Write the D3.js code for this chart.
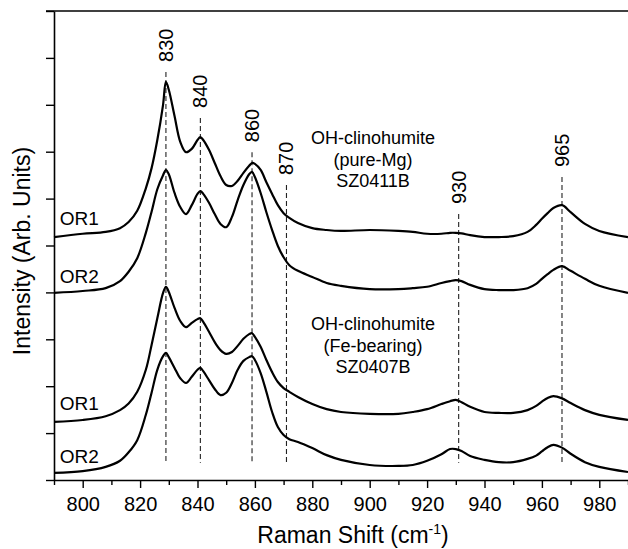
<!DOCTYPE html>
<html>
<head>
<meta charset="utf-8">
<script src="https://cdn.jsdelivr.net/npm/d3@7"></script>
<style>
  html, body { margin: 0; padding: 0; background: #fff; }
  svg { display: block; }
  text { font-family: "Liberation Sans", Arial, sans-serif; fill: #000; }
</style>
</head>
<body>
<svg id="chart" width="628" height="549"></svg>
<script>
// ---------------- data ----------------
const wavenumber = [790, 800, 808, 813, 816, 819, 822, 824, 826, 828, 829, 830, 832, 834, 836, 838, 840, 841, 842, 844, 846, 848, 850, 852, 854, 856, 858, 859, 860, 862, 864, 866, 868, 870, 872, 875, 880, 885, 890, 900, 910, 915, 920, 925, 928, 930, 932, 935, 940, 945, 950, 955, 958, 960, 962, 964, 967, 970, 975, 980, 990];

const pureMgOR1 = [5.18, 5.25, 5.29, 5.37, 5.50, 5.74, 6.22, 6.65, 7.25, 8.00, 8.49, 8.32, 7.76, 7.21, 6.99, 7.06, 7.25, 7.31, 7.25, 7.04, 6.76, 6.48, 6.29, 6.27, 6.38, 6.55, 6.70, 6.76, 6.74, 6.61, 6.35, 6.10, 5.86, 5.69, 5.59, 5.48, 5.37, 5.33, 5.31, 5.33, 5.31, 5.29, 5.25, 5.25, 5.27, 5.27, 5.26, 5.22, 5.18, 5.18, 5.20, 5.29, 5.44, 5.57, 5.69, 5.80, 5.86, 5.71, 5.46, 5.31, 5.18];

const pureMgOR2 = [3.99, 4.03, 4.09, 4.24, 4.44, 4.73, 5.27, 5.72, 6.20, 6.50, 6.61, 6.52, 6.12, 5.82, 5.67, 5.86, 6.10, 6.16, 6.10, 5.91, 5.67, 5.46, 5.39, 5.61, 5.97, 6.29, 6.52, 6.57, 6.46, 6.12, 5.71, 5.33, 4.99, 4.75, 4.58, 4.46, 4.33, 4.20, 4.14, 4.07, 4.07, 4.09, 4.12, 4.20, 4.24, 4.26, 4.24, 4.16, 4.07, 4.05, 4.05, 4.09, 4.18, 4.29, 4.39, 4.48, 4.56, 4.46, 4.29, 4.14, 3.99];

const feOR1 = [1.24, 1.28, 1.36, 1.49, 1.63, 1.88, 2.35, 2.88, 3.45, 3.99, 4.12, 4.01, 3.67, 3.39, 3.26, 3.35, 3.43, 3.45, 3.37, 3.16, 2.94, 2.77, 2.69, 2.73, 2.86, 3.01, 3.11, 3.13, 3.05, 2.84, 2.56, 2.30, 2.09, 1.96, 1.88, 1.77, 1.62, 1.51, 1.45, 1.41, 1.41, 1.45, 1.51, 1.62, 1.68, 1.71, 1.66, 1.56, 1.45, 1.43, 1.43, 1.49, 1.58, 1.67, 1.75, 1.79, 1.74, 1.64, 1.49, 1.39, 1.28];

const feOR2 = [0.15, 0.19, 0.28, 0.41, 0.59, 0.85, 1.39, 1.86, 2.35, 2.64, 2.71, 2.62, 2.39, 2.17, 2.07, 2.20, 2.35, 2.39, 2.32, 2.13, 1.94, 1.81, 1.86, 2.07, 2.35, 2.54, 2.62, 2.64, 2.56, 2.28, 1.88, 1.45, 1.13, 0.96, 0.87, 0.81, 0.68, 0.53, 0.43, 0.32, 0.30, 0.32, 0.41, 0.55, 0.66, 0.66, 0.62, 0.51, 0.43, 0.38, 0.38, 0.45, 0.52, 0.61, 0.70, 0.75, 0.69, 0.56, 0.38, 0.28, 0.17];

const seriesNames = ["OR1", "OR2", "OR1", "OR2"];

const peakPositions = [829, 841, 859, 871, 931, 967];
const peakLabels = ["830", "840", "860", "870", "930", "965"];
const peakTops = [8.70, 7.72, 6.99, 6.29, 5.67, 6.46];
const peakBottom = 0.37;

const xMajorTicks = [800, 820, 840, 860, 880, 900, 920, 940, 960, 980];
const xMinorTicks = [790, 810, 830, 850, 870, 890, 910, 930, 950, 970, 990];
const yTicks = [0, 1, 2, 3, 4, 5, 6, 7, 8, 9, 10];

const noteMg = ["OH-clinohumite", "(pure-Mg)", "SZ0411B"];
const noteFe = ["OH-clinohumite", "(Fe-bearing)", "SZ0407B"];

// ---------------- layout ----------------
const svg = d3.select("#chart");
const x = d3.scaleLinear().domain([790, 990]).range([54, 628]);
const y = d3.scaleLinear().domain([0, 10]).range([480, 11]);

// top frame line
svg.append("line")
  .attr("x1", 46).attr("x2", 628).attr("y1", y(10)).attr("y2", y(10))
  .attr("stroke", "#000").attr("stroke-width", 1.6);

// x axis (major ticks with labels)
const xAxis = d3.axisBottom(x).tickValues(xMajorTicks).tickSize(8).tickSizeOuter(0).tickPadding(9);
const gx = svg.append("g").attr("transform", `translate(0,${y(0)})`).call(xAxis);
gx.select(".domain").attr("stroke-width", 1.6);
gx.selectAll(".tick line").attr("stroke-width", 1.4);
gx.selectAll(".tick text").attr("font-size", 20).attr("font-family", "Liberation Sans, Arial, sans-serif");

// x minor ticks
const xMinor = d3.axisBottom(x).tickValues(xMinorTicks).tickSize(5).tickFormat("");
const gxm = svg.append("g").attr("transform", `translate(0,${y(0)})`).call(xMinor);
gxm.select(".domain").remove();
gxm.selectAll(".tick line").attr("stroke-width", 1.4);

// y axis (no labels)
const yAxis = d3.axisLeft(y).tickValues(yTicks).tickSize(8).tickSizeOuter(0).tickFormat("");
const gy = svg.append("g").attr("transform", `translate(${x(790)},0)`).call(yAxis);
gy.select(".domain").attr("stroke-width", 1.6);
gy.selectAll(".tick line").attr("stroke-width", 1.4);

// dashed peak markers
const peaks = peakPositions.map((p, i) => ({ pos: p, label: peakLabels[i], top: peakTops[i] }));
svg.append("g").selectAll("line").data(peaks).join("line")
  .attr("x1", d => x(d.pos)).attr("x2", d => x(d.pos))
  .attr("y1", d => y(d.top)).attr("y2", y(peakBottom))
  .attr("stroke", "#222").attr("stroke-width", 1.1)
  .attr("stroke-dasharray", "5,3");

svg.append("g").selectAll("text").data(peaks).join("text")
  .attr("transform", d => `translate(${x(d.pos) + 7},${y(d.top) - 10}) rotate(-90)`)
  .attr("text-anchor", "start")
  .attr("font-size", 20)
  .text(d => d.label);

// spectra
const spectra = [pureMgOR1, pureMgOR2, feOR1, feOR2];
const line = d3.line()
  .x((d, i) => x(wavenumber[i]))
  .y(d => y(d))
  .curve(d3.curveCatmullRom.alpha(0.5));

svg.append("g").selectAll("path").data(spectra).join("path")
  .attr("d", d => line(d))
  .attr("fill", "none")
  .attr("stroke", "#000")
  .attr("stroke-width", 2.2)
  .attr("stroke-linejoin", "round");

// series labels (placed above each curve's left baseline)
const labelLevels = [5.44, 4.20, 1.49, 0.36];
svg.append("g").selectAll("text").data(seriesNames).join("text")
  .attr("x", x(792))
  .attr("y", (d, i) => y(labelLevels[i]))
  .attr("font-size", 19)
  .text(d => d);

// notes
function note(lines, cx, baseY) {
  svg.append("g").selectAll("text").data(lines).join("text")
    .attr("x", cx)
    .attr("y", (d, i) => baseY + i * 21.5)
    .attr("text-anchor", "middle")
    .attr("font-size", 18)
    .text(d => d);
}
note(noteMg, 373, 144);
note(noteFe, 373, 330);

// axis titles
const xt = svg.append("text")
  .attr("x", 353).attr("y", 543)
  .attr("text-anchor", "middle")
  .attr("font-size", 23);
xt.append("tspan").text("Raman Shift (cm");
xt.append("tspan").attr("font-size", 14).attr("dy", -9).text("-1");
xt.append("tspan").attr("dy", 9).text(")");

svg.append("text")
  .attr("transform", "translate(30,251) rotate(-90)")
  .attr("text-anchor", "middle")
  .attr("font-size", 23)
  .text("Intensity (Arb. Units)");
</script>
</body>
</html>
